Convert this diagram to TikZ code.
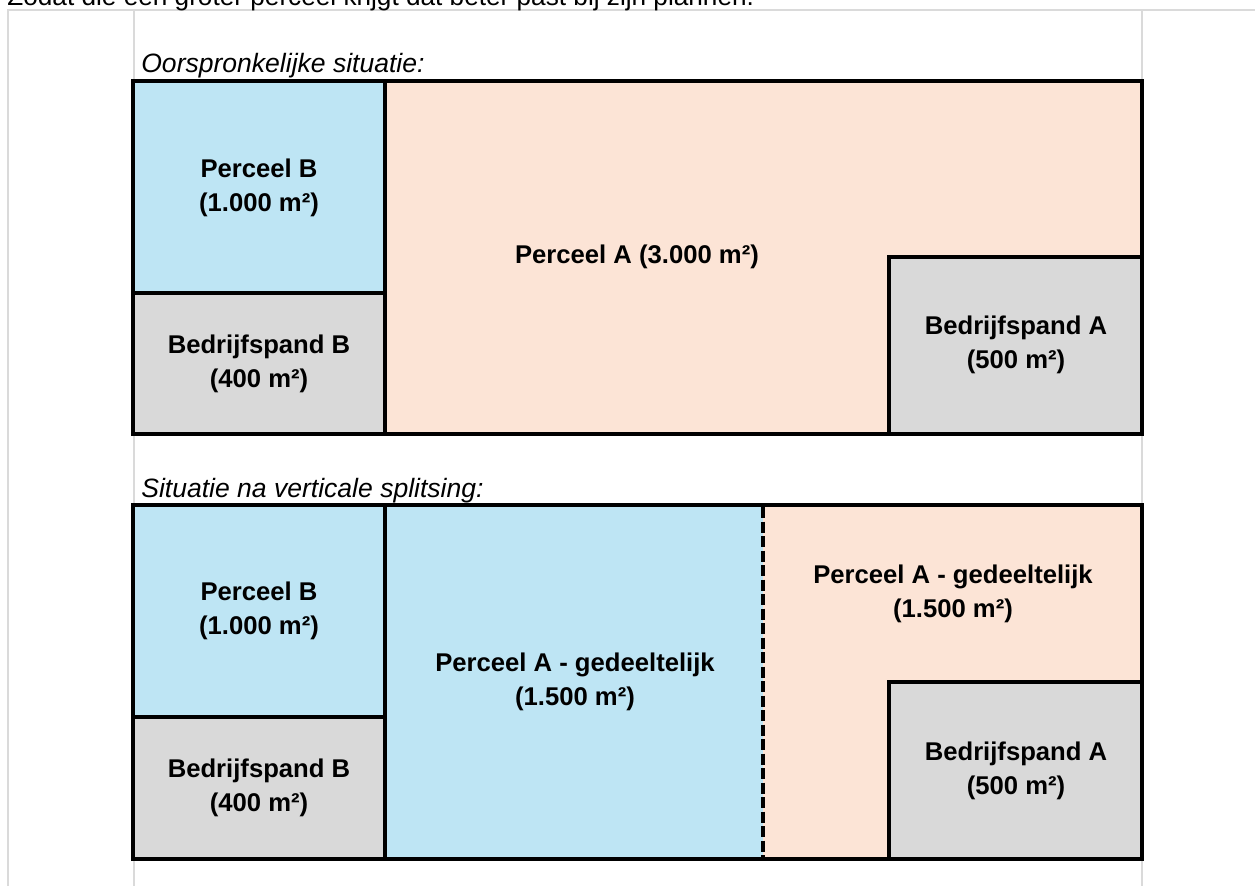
\documentclass[tikz,border=0pt]{standalone}
\usepackage{fontspec}
\setmainfont{Liberation Sans}
\definecolor{perceelblauw}{RGB}{190,229,244}
\definecolor{perceelroze}{RGB}{252,228,214}
\definecolor{pandgrijs}{RGB}{217,217,217}
\definecolor{rasterlijn}{RGB}{218,218,218}

\begin{document}
\begin{tikzpicture}[x=0.2mm, y=-0.2mm,
  rand/.style={line width=0.8mm, line join=miter},
  raster/.style={rasterlijn, line width=0.3mm},
  label/.style={font=\fontsize{14.6}{19.3}\selectfont\bfseries, align=center, inner sep=0pt},
  titel/.style={font=\fontsize{15.1}{17}\selectfont\itshape, anchor=base west, inner sep=0pt}]
  \useasboundingbox (0,0) rectangle (1255,886);

  % rasterlijnen van het werkblad
  \draw[raster] (7,10) -- (1255,10);
  \draw[raster] (8,10) -- (8,886);
  \draw[raster] (134,10) -- (134,886);
  \draw[raster] (1142,10) -- (1142,886);

  \node[anchor=base west, inner sep=0pt, font=\fontsize{14.9}{17}\selectfont] (intro) at (7,6)
    {Zodat die een groter perceel krijgt dat beter past bij zijn plannen.};

  % oorspronkelijke situatie
  \node[titel] (titel1) at (141,72) {Oorspronkelijke situatie:};
  \filldraw[rand, fill=perceelroze] (385,81) rectangle (1142,434);
  \filldraw[rand, fill=perceelblauw] (133,81) rectangle (385,293);
  \filldraw[rand, fill=pandgrijs] (133,293) rectangle (385,434);
  \filldraw[rand, fill=pandgrijs] (889,257) rectangle (1142,434);

  \node[label] (pb1) at (259,188) {Perceel B\\(1.000 m²)};
  \node[label] (sb1) at (259,364) {Bedrijfspand B\\(400 m²)};
  \node[label] (pa1) at (637,257) {Perceel A (3.000 m²)};
  \node[label] (sa1) at (1016,345) {Bedrijfspand A\\(500 m²)};

  % na verticale splitsing
  \node[titel] (titel2) at (141,497) {Situatie na verticale splitsing:};
  \fill[perceelblauw] (133,505) rectangle (763,859);
  \fill[perceelroze] (763,505) rectangle (1142,859);
  \filldraw[rand, fill=perceelblauw] (133,505) rectangle (385,717);
  \filldraw[rand, fill=pandgrijs] (133,717) rectangle (385,859);
  \filldraw[rand, fill=pandgrijs] (889,682) rectangle (1142,859);
  \draw[rand] (133,505) rectangle (1142,859);
  \draw[rand, dash pattern=on 2.2mm off 0.7mm] (763,507) -- (763,857);

  \node[label] (pb2) at (259,611) {Perceel B\\(1.000 m²)};
  \node[label] (sb2) at (259,788) {Bedrijfspand B\\(400 m²)};
  \node[label] (pa2) at (575,682) {Perceel A - gedeeltelijk\\(1.500 m²)};
  \node[label] (pa3) at (953,594) {Perceel A - gedeeltelijk\\(1.500 m²)};
  \node[label] (sa2) at (1016,771) {Bedrijfspand A\\(500 m²)};
\end{tikzpicture}
\end{document}
